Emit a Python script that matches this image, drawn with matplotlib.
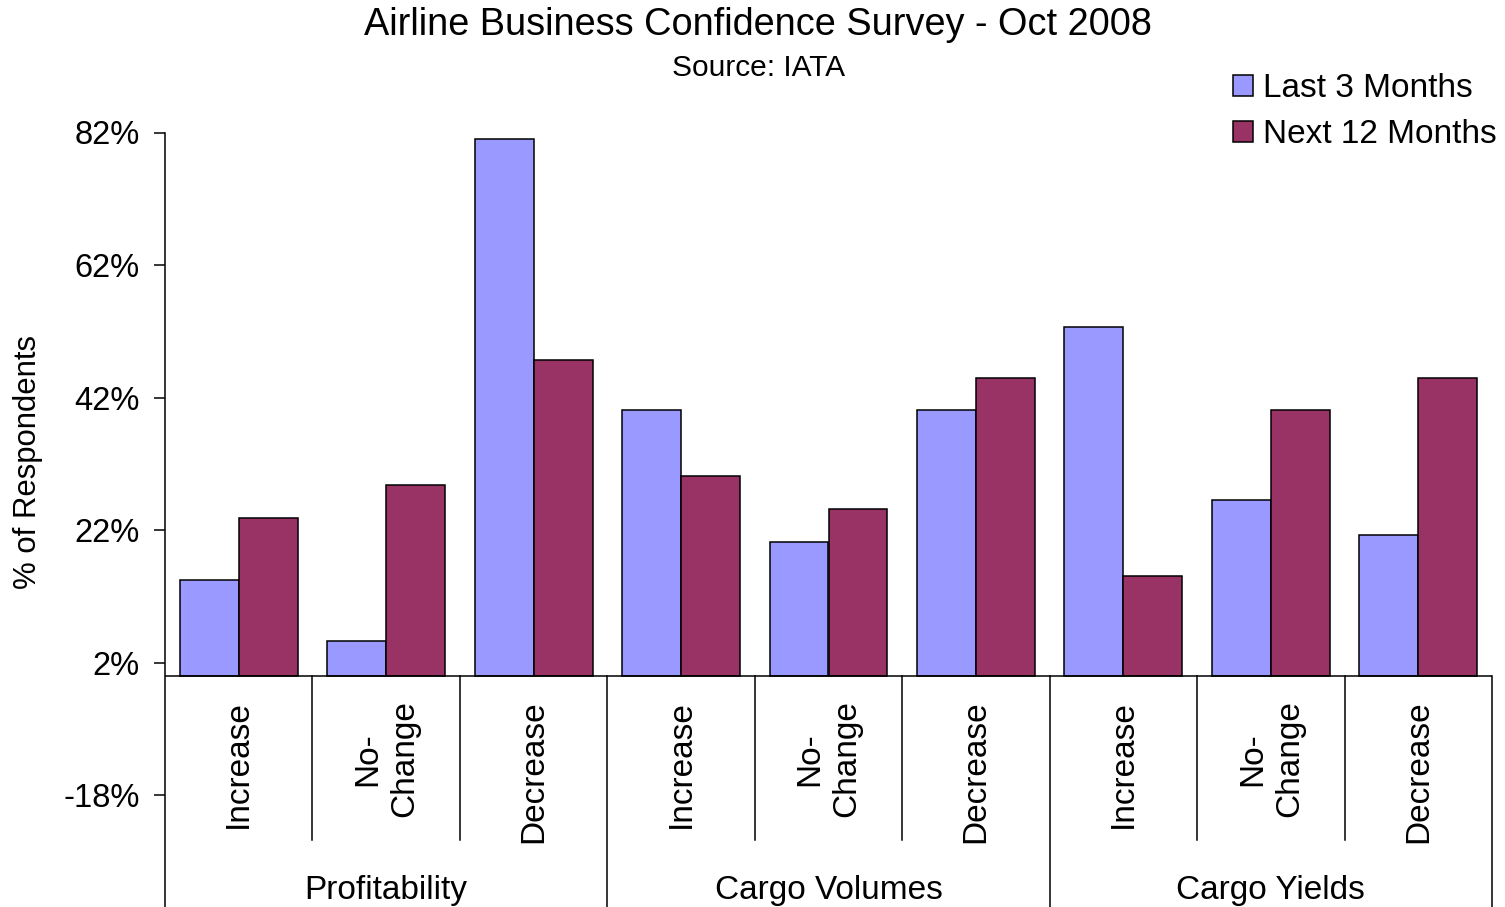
import matplotlib
matplotlib.use("Agg")
import matplotlib.pyplot as plt
import numpy as np

# ---- data ----
subcategories = ["Increase", "No-\nChange", "Decrease",
                 "Increase", "No-\nChange", "Decrease",
                 "Increase", "No-\nChange", "Decrease"]
groups = ["Profitability", "Cargo Volumes", "Cargo Yields"]
series_names = ["Last 3 Months", "Next 12 Months"]
last3 = [14.5, 5.2, 81.0, 40.1, 20.2, 40.1, 52.6, 26.6, 21.3]
next12 = [23.8, 28.8, 47.6, 30.2, 25.2, 45.0, 15.1, 40.1, 45.0]
yticks = [82, 62, 42, 22, 2, -18]

plt.rcParams['font.family'] = ['Liberation Sans', 'DejaVu Sans']

W, H = 1505, 907
fig = plt.figure(figsize=(W / 100, H / 100), dpi=100)
left, right, top = 165 / W, 1492 / W, 1 - 132.5 / H
ax = fig.add_axes([left, 0, right - left, top])

x = np.arange(len(subcategories))
bw = 0.4
c1, c2 = "#9999FF", "#993366"
ax.bar(x - bw / 2, last3, bw, color=c1, edgecolor="black", linewidth=1.1,
       label=series_names[0], zorder=3)
ax.bar(x + bw / 2, next12, bw, color=c2, edgecolor="black", linewidth=1.1,
       label=series_names[1], zorder=3)

ax.set_xlim(-0.5, len(subcategories) - 0.5)
ax.set_ylim(-34.9, 82)

for s in ["top", "right", "bottom"]:
    ax.spines[s].set_visible(False)
ax.spines["left"].set_linewidth(1.1)
ax.set_xticks([])
ax.set_yticks(yticks)
ax.set_yticklabels([f"{v}%" for v in yticks], fontsize=23.5)
ax.tick_params(axis="y", length=8, width=1.1, pad=10, direction="out")

# zero line
ax.axhline(0, color="black", linewidth=1.1, zorder=4)

# separators within groups
for b in [0.5, 1.5, 3.5, 4.5, 6.5, 7.5]:
    ax.plot([b, b], [0, -24.8], color="black", linewidth=1.1, clip_on=False)
# group boundaries
for b in [2.5, 5.5, 8.5]:
    ax.plot([b, b], [0, -40], color="black", linewidth=1.1, clip_on=False)

# subcategory labels
for xi, lab in zip(x, subcategories):
    ax.text(xi, -3.7, lab, rotation=90, ha="center", va="top",
            multialignment="center", fontsize=24, linespacing=1.25)

# group labels
for gi, g in enumerate(groups):
    ax.text(gi * 3 + 1, -32.4, g, ha="center", va="center", fontsize=24)

fig.text(28 / W, 1 - 462 / H, "% of Respondents", rotation=90,
         ha="center", va="center", fontsize=22.4)

fig.text(757.5 / W, 1 - 25 / H, "Airline Business Confidence Survey - Oct 2008",
         ha="center", va="center", fontsize=27.3)
fig.text(758 / W, 1 - 68 / H, "Source: IATA", ha="center", va="center", fontsize=21.5)

fig.legend(loc="upper left", bbox_to_anchor=(1233 / W, 1 - 73 / H),
           frameon=False, fontsize=24, handlelength=0.6, handleheight=0.6,
           handletextpad=0.3, labelspacing=0.45, borderpad=0, borderaxespad=0)

fig.savefig("out.png", dpi=100)
